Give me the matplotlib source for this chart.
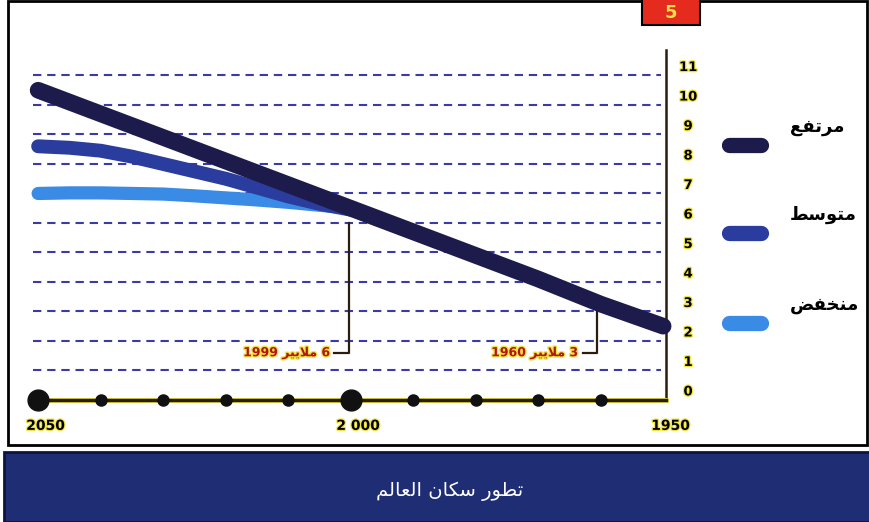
import matplotlib
matplotlib.use("Agg")
import matplotlib.pyplot as plt
import matplotlib.patheffects as pe
from matplotlib.patches import Rectangle

# data (world population, billions)
YEARS = [2050, 2045, 2040, 2035, 2030, 2025, 2020, 2015, 2010, 2005, 2000]
HIST_YEARS = [2050, 2040, 2030, 2020, 2010, 2000, 1990, 1980, 1970, 1960, 1950]
HIGH = [10.5, 9.7, 8.9, 8.1, 7.3, 6.5, 5.7, 4.9, 4.1, 3.25, 2.5]
MEDIUM = [8.6, 8.55, 8.45, 8.25, 8.0, 7.75, 7.5, 7.2, 6.9, 6.65, 6.45]
LOW = [7.0, 7.02, 7.02, 7.0, 6.98, 6.92, 6.85, 6.78, 6.7, 6.6, 6.5]

SERIES_NAMES = ["مرتفع", "متوسط", "منخفض"]
SERIES_COLORS = ["#1c1b4c", "#2a3d9e", "#3a8be6"]

Y_TICKS = list(range(0, 12))
TIMELINE = [2050, 2040, 2030, 2020, 2010, 2000, 1990, 1980, 1970, 1960]
YEAR_LABELS = {2050: "2050", 2000: "2 000", 1950: "1950"}
ANNOT_YEARS = [2000.3, 1960.6]
ANNOT_POP = [6, 3]
ANNOT_TEXT = ["1999", "1960"]
TITLE = "تطور سكان العالم"

# minimal arabic shaping (presentation forms), enough for these words
FORMS = {
    "ا": (0xFE8D, 2), "ب": (0xFE8F, 4), "ت": (0xFE95, 4), "خ": (0xFEA5, 4),
    "ر": (0xFEAD, 2), "س": (0xFEB1, 4), "ض": (0xFEBD, 4), "ط": (0xFEC1, 4),
    "ع": (0xFEC9, 4), "ف": (0xFED1, 4), "ك": (0xFED9, 4), "ل": (0xFEDD, 4),
    "م": (0xFEE1, 4), "ن": (0xFEE5, 4), "و": (0xFEED, 2), "ي": (0xFEF1, 4),
}


def shape(text):
    toks = []
    i = 0
    while i < len(text):
        if text[i] == "ل" and i + 1 < len(text) and text[i + 1] == "ا":
            toks.append("لا")
            i += 2
        else:
            toks.append(text[i])
            i += 1
    res = []
    for k, t in enumerate(toks):
        prev = toks[k - 1] if k > 0 else None
        nxt = toks[k + 1] if k + 1 < len(toks) else None
        jp = prev in FORMS and FORMS[prev][1] == 4
        if t == "لا":
            res.append(chr(0xFEFC if jp else 0xFEFB))
            continue
        if t not in FORMS:
            res.append(t)
            continue
        base, kind = FORMS[t]
        jn = kind == 4 and (nxt in FORMS or nxt == "لا")
        if jp and jn:
            res.append(chr(base + 3))
        elif jp:
            res.append(chr(base + 1))
        elif jn:
            res.append(chr(base + 2))
        else:
            res.append(chr(base))
    return "".join(res[::-1])


plt.rcParams["font.family"] = ["DejaVu Sans"]

fig = plt.figure(figsize=(8.7, 5.22), dpi=100)
ax = fig.add_axes([0, 0, 1, 1])
# 6.25 px per year, 29.5 px per billion
ax.set_xlim(2056.1, 1916.9)
ax.set_ylim(-4.14, 13.56)
ax.axis("off")

# outer frame, number badge, title bar
fig.patches.append(Rectangle((0.009, 0.1475), 0.988, 0.85, transform=fig.transFigure,
                             fill=False, ec="black", lw=2))
fig.patches.append(Rectangle((0.738, 0.952), 0.067, 0.06, transform=fig.transFigure,
                             fc="#e52b1e", ec="black", lw=1.5))
fig.text(0.771, 0.975, "5", color="#f4e04a", fontsize=13, fontweight="bold",
         ha="center", va="center")
fig.patches.append(Rectangle((0.005, 0.0), 0.995, 0.134, transform=fig.transFigure,
                             fc="#1f2d75", ec="#10143a", lw=2))
fig.text(0.517, 0.058, shape(TITLE), color="white", fontsize=14, ha="center", va="center")

# dashed grid
ax.hlines(Y_TICKS[1:], 2050.8, 1950.3, colors="#3b3ba8", linestyles=(0, (4, 2.8)), lw=1.5)

# right axis + timeline
yellow = [pe.withStroke(linewidth=1.8, foreground="#f2e640")]
ax.plot([1949.5, 1949.5], [11.86, 0.0], color="#2b1d0e", lw=1.8)
ax.plot([2050, 1949.5], [0, 0], color="#2b1d0e", lw=2.5,
        path_effects=[pe.withStroke(linewidth=3.5, foreground="#f2e640")], zorder=3)
small = [y for y in TIMELINE if y not in (2050, 2000)]
ax.plot(small, [0] * len(small), "o", color="#111111", ms=8, zorder=4)
ax.plot([2050, 2000], [0, 0], "o", color="#111111", ms=15, zorder=4)
for yr, lab in YEAR_LABELS.items():
    ax.text(yr - 1.2, -0.88, lab, fontsize=10, fontweight="bold", ha="center", va="center",
            path_effects=yellow)
for v in Y_TICKS:
    ax.text(1946.0, v + 0.27, str(v), fontsize=9.5, fontweight="bold", ha="center", va="center",
            path_effects=yellow)

# population lines
ax.plot(YEARS, LOW, color=SERIES_COLORS[2], lw=9.5, solid_capstyle="round", zorder=5)
ax.plot(YEARS, MEDIUM, color=SERIES_COLORS[1], lw=10, solid_capstyle="round", zorder=6)
ax.plot(HIST_YEARS, HIGH, color=SERIES_COLORS[0], lw=12, solid_capstyle="round", zorder=7)

# leader annotations
red_txt = [pe.withStroke(linewidth=2, foreground="#f2e640")]
for yr, pop, lab in zip(ANNOT_YEARS, ANNOT_POP, ANNOT_TEXT):
    ax.plot([yr, yr, yr + 2.3], [pop, 1.6, 1.6], color="#2b1d0e", lw=1.6, zorder=4)
    ax.text(yr + 3.0, 1.6, lab + " " + shape("ملايير") + " " + str(pop), color="#b3141a",
            fontsize=9, fontweight="bold", ha="right", va="center",
            path_effects=red_txt)

# legend, drawn by hand: bar with label above-right
bar_y = [0.722, 0.554, 0.381]
for name, col, by in zip(SERIES_NAMES, SERIES_COLORS, bar_y):
    ax.plot([0.838, 0.875], [by, by], color=col, lw=11, solid_capstyle="round",
            transform=ax.transAxes)
    ax.text(0.908, by + 0.035, shape(name), fontsize=13, fontweight="bold",
            ha="left", va="center", transform=ax.transAxes)

fig.savefig("out.png", dpi=100)
